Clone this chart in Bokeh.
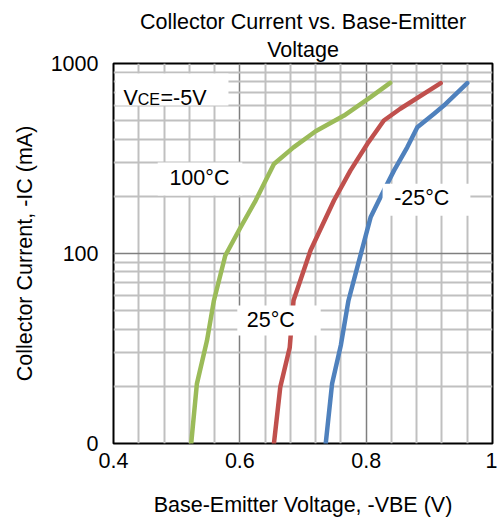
from bokeh.plotting import figure
from bokeh.models import FixedTicker, Label, BoxAnnotation, Title
from bokeh.embed import file_html
from bokeh.resources import INLINE

FONT = "Liberation Sans"

# ---- data ----
vbe_100c = [0.523, 0.532, 0.548, 0.559, 0.577, 0.601, 0.625, 0.654, 0.685, 0.720, 0.765, 0.807, 0.838]
ic_100c = [10, 20.6, 34.8, 56.6, 97.6, 137, 190, 296, 362, 440, 532, 665, 791]

vbe_25c = [0.654, 0.664, 0.679, 0.685, 0.712, 0.749, 0.775, 0.802, 0.828, 0.854, 0.918]
ic_25c = [10, 19.8, 32, 56.6, 104, 190, 273, 378, 501, 578, 788]

vbe_m25c = [0.736, 0.746, 0.760, 0.772, 0.786, 0.807, 0.820, 0.844, 0.865, 0.881, 0.907, 0.923, 0.960]
ic_m25c = [10, 20.6, 33, 56.6, 84.7, 155, 190, 273, 362, 462, 543, 601, 788]

x_ticks = [0.4, 0.6, 0.8, 1.0]
x_tick_labels = ["0.4", "0.6", "0.8", "1"]
x_major_grid = [0.6, 0.8]
x_minor_grid = [0.44, 0.48, 0.52, 0.56, 0.64, 0.68, 0.72, 0.76, 0.84, 0.88, 0.92, 0.96]
y_ticks = [10, 100, 1000]
y_tick_labels = ["0", "100", "1000"]
y_major_grid = [100]
y_minor_grid = [20, 30, 40, 50, 60, 70, 80, 90, 200, 300, 400, 500, 600, 700, 800, 900]

title_lines = ["Collector Current vs. Base-Emitter", "Voltage"]
x_label = "Base-Emitter Voltage, -VBE (V)"
y_label = "Collector Current, -IC (mA)"

GREEN = "#9BBB59"
RED = "#C0504D"
BLUE = "#4F81BD"

p = figure(width=497, height=522, x_range=(0.4, 1.0), y_range=(10, 1000),
           y_axis_type="log", output_backend="svg", toolbar_location=None,
           title=None, min_border_left=113, min_border_right=5,
           min_border_top=63, min_border_bottom=79)
# title: two centred lines (the one added first sits nearest the plot)
for line, standoff in ((title_lines[1], 4), (title_lines[0], 0)):
    p.add_layout(Title(text=line, align="center", text_font=FONT, text_font_size="21.5px",
                       text_font_style="normal", text_color="black", standoff=standoff), "above")
p.background_fill_color = "white"
p.border_fill_color = "white"
p.outline_line_color = "black"
p.outline_line_width = 2

# grids
p.xgrid.ticker = FixedTicker(ticks=x_major_grid, minor_ticks=x_minor_grid)
p.ygrid.ticker = FixedTicker(ticks=y_major_grid, minor_ticks=y_minor_grid)
for g in (p.xgrid, p.ygrid):
    g.grid_line_color = "#7F7F7F"
    g.grid_line_width = 1.5
    g.minor_grid_line_color = "#C0C0C0"
    g.minor_grid_line_width = 2

# axes
p.xaxis.ticker = FixedTicker(ticks=x_ticks)
p.xaxis.major_label_overrides = dict(zip(x_ticks, x_tick_labels))
p.yaxis.ticker = FixedTicker(ticks=y_ticks)
p.yaxis.major_label_overrides = dict(zip(y_ticks, y_tick_labels))
p.xaxis.axis_label = x_label
p.yaxis.axis_label = y_label
for ax in (p.xaxis, p.yaxis):
    ax.axis_line_color = None
    ax.major_tick_line_color = None
    ax.minor_tick_line_color = None
    ax.major_tick_out = 0
    ax.major_tick_in = 0
    ax.minor_tick_out = 0
    ax.major_label_text_font = FONT
    ax.major_label_text_font_size = "21.5px"
    ax.major_label_text_color = "black"
    ax.axis_label_text_font = FONT
    ax.axis_label_text_font_size = "21.5px"
    ax.axis_label_text_font_style = "normal"
    ax.axis_label_text_color = "black"
p.xaxis.major_label_standoff = 9
p.yaxis.major_label_standoff = 15
p.xaxis.axis_label_standoff = 22
p.yaxis.axis_label_standoff = 11

# curves
p.line(vbe_100c, ic_100c, line_color=GREEN, line_width=4.5, line_cap="round", line_join="round")
p.line(vbe_25c, ic_25c, line_color=RED, line_width=4.5, line_cap="round", line_join="round")
p.line(vbe_m25c, ic_m25c, line_color=BLUE, line_width=4.5, line_cap="round", line_join="round")


def text_pieces(x, y, pieces):
    for txt, size, dx, dy in pieces:
        p.add_layout(Label(x=x, y=y, x_offset=dx, y_offset=dy, text=txt,
                           text_font=FONT, text_font_size=size, text_color="black",
                           text_align="left", text_baseline="alphabetic"))


def white_box(l, r, b, t):
    p.add_layout(BoxAnnotation(left=l, right=r, bottom=b, top=t, fill_color="white",
                               fill_alpha=1.0, line_color=None))


# in-plot labels
white_box(0.403, 0.582, 601, 885)
text_pieces(0.4158, 662, [("V", "21.5px", 0, 0), ("CE", "16px", 14.3, -1.5), ("=-5V", "21.5px", 37, 0)])

white_box(0.470, 0.604, 202, 301)
p.add_layout(Label(x=0.536, y=251, text="100°C", text_font=FONT, text_font_size="21.5px",
                   text_align="center", text_baseline="middle", text_color="black"))

white_box(0.596, 0.728, 37.0, 53.2)
p.add_layout(Label(x=0.649, y=44.4, text="25°C", text_font=FONT, text_font_size="21.5px",
                   text_align="center", text_baseline="middle", text_color="black"))

white_box(0.826, 0.965, 158, 233)
p.add_layout(Label(x=0.888, y=195, text="-25°C", text_font=FONT, text_font_size="21.5px",
                   text_align="center", text_baseline="middle", text_color="black"))

open("out.html", "w").write(file_html(p, INLINE))
